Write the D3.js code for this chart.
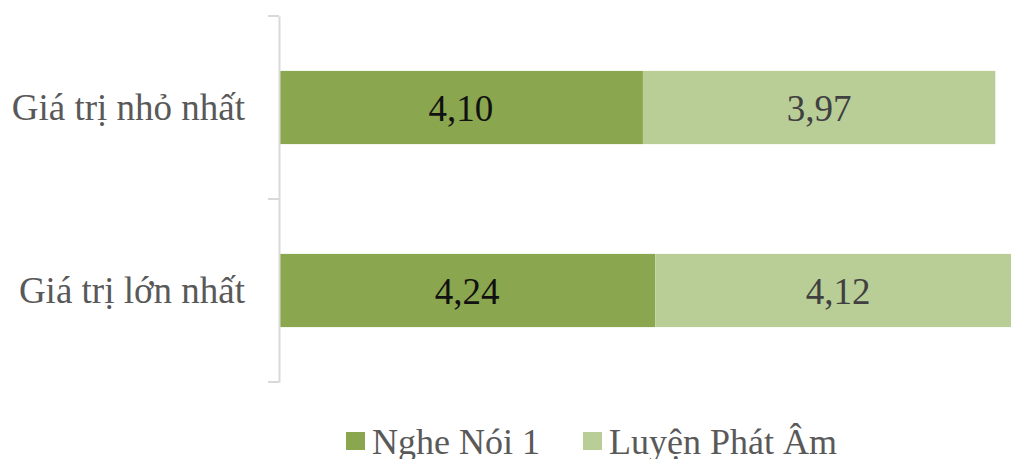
<!DOCTYPE html>
<html>
<head>
<meta charset="utf-8">
<script src="https://cdn.jsdelivr.net/npm/d3@7"></script>
<style>
  html, body { margin: 0; padding: 0; background: #fff; overflow: hidden; }
  svg { display: block; font-family: "Liberation Serif", "Times New Roman", serif; }
</style>
</head>
<body>
<svg id="chart" width="1011" height="459"></svg>
<script>
const categories = ["Giá trị nhỏ nhất", "Giá trị lớn nhất"];
const seriesNames = ["Nghe Nói 1", "Luyện Phát Âm"];
const ngheNoi = [4.10, 4.24];
const luyenPhatAm = [3.97, 4.12];
const valueLabels = [["4,10", "3,97"], ["4,24", "4,12"]];
const colors = ["#8AA64E", "#B9CE97"];
const labelColors = ["#111111", "#404040"];

const svg = d3.select("#chart");
const x0 = 279, plotTop = 16, plotBottom = 382;

const x = d3.scaleLinear().domain([0, 8.07]).range([x0, 995.3]);
const y = d3.scaleBand().domain(categories).range([plotTop, plotBottom]).paddingInner(0.6).paddingOuter(0.3);

const rows = categories.map((c, i) => ({ cat: c, values: [ngheNoi[i], luyenPhatAm[i]], labels: valueLabels[i] }));

// stacked segments with centred value labels
rows.forEach(r => {
  let acc = 0;
  r.values.forEach((v, j) => {
    const xs = x(acc), xe = x(acc + v);
    svg.append("rect")
      .attr("x", xs).attr("y", y(r.cat))
      .attr("width", xe - xs).attr("height", y.bandwidth())
      .attr("fill", colors[j]);
    svg.append("text")
      .attr("x", (xs + xe) / 2)
      .attr("y", y(r.cat) + y.bandwidth() / 2 + 13)
      .attr("text-anchor", "middle")
      .attr("font-size", 37)
      .attr("fill", labelColors[j])
      .text(r.labels[j]);
    acc += v;
  });
});

// category axis line
const axis = d3.axisLeft(d3.scaleBand().domain(categories).range([plotTop, plotBottom]))
  .tickSize(0).tickSizeOuter(0).tickFormat("");
const axisG = svg.append("g").attr("transform", `translate(${x0},0)`).call(axis);
axisG.select(".domain").attr("stroke", "#D9D9D9").attr("stroke-width", 2);
axisG.selectAll(".tick").remove();
// tick marks at category boundaries
const bounds = [plotTop, (plotTop + plotBottom) / 2, plotBottom];
svg.selectAll("line.bound").data(bounds).join("line")
  .attr("class", "bound")
  .attr("x1", x0 - 11).attr("x2", x0)
  .attr("y1", d => d).attr("y2", d => d)
  .attr("stroke", "#D9D9D9").attr("stroke-width", 2);

svg.selectAll("text.cat").data(categories).join("text")
  .attr("class", "cat")
  .attr("x", 245)
  .attr("y", d => y(d) + y.bandwidth() / 2 + 12)
  .attr("text-anchor", "end")
  .attr("font-size", 37)
  .attr("fill", "#595959")
  .text(d => d);

// legend
const legendX = [346, 583];
seriesNames.forEach((n, i) => {
  svg.append("rect").attr("x", legendX[i]).attr("y", 432).attr("width", 19).attr("height", 18).attr("fill", colors[i]);
  svg.append("text").attr("x", legendX[i] + 26).attr("y", 454)
    .attr("font-size", 36).attr("fill", "#595959").text(n);
});
</script>
</body>
</html>
